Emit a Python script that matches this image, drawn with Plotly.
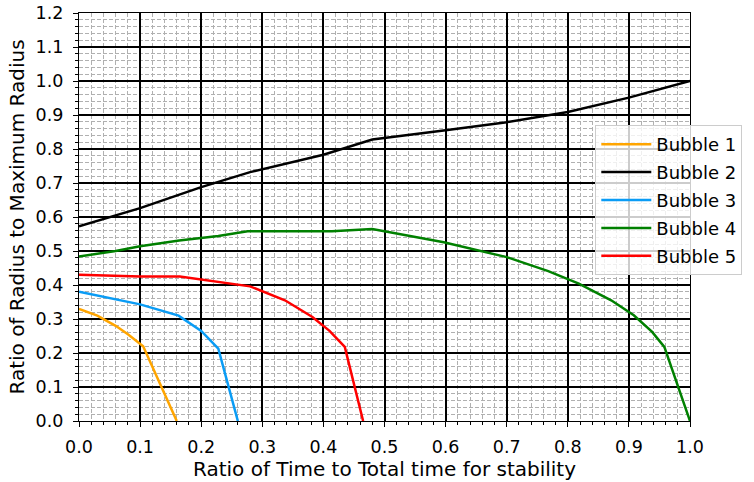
import plotly.graph_objects as go

# Data
b1_x = [0.0, 0.03, 0.06, 0.08, 0.105, 0.16]
b1_y = [0.33, 0.31, 0.28, 0.255, 0.22, 0.0]

b2_x = [0.0, 0.1, 0.2, 0.28, 0.4, 0.48, 0.6, 0.7, 0.8, 0.9, 1.0]
b2_y = [0.573, 0.626, 0.688, 0.732, 0.783, 0.828, 0.855, 0.879, 0.909, 0.951, 1.0]

b3_x = [0.0, 0.1, 0.163, 0.2, 0.228, 0.26]
b3_y = [0.38, 0.343, 0.31, 0.265, 0.213, 0.0]

b4_x = [0.0, 0.06, 0.1, 0.164, 0.228, 0.276, 0.414, 0.48, 0.597, 0.656, 0.7, 0.768,
        0.818, 0.871, 0.908, 0.938, 0.958, 1.0]
b4_y = [0.484, 0.5, 0.514, 0.531, 0.544, 0.558, 0.558, 0.565, 0.526, 0.502, 0.482, 0.441,
        0.404, 0.355, 0.311, 0.262, 0.218, 0.0]

b5_x = [0.0, 0.1, 0.165, 0.28, 0.337, 0.382, 0.41, 0.435, 0.465]
b5_y = [0.43, 0.425, 0.425, 0.396, 0.355, 0.306, 0.265, 0.218, 0.0]

names = ["Bubble 1", "Bubble 2", "Bubble 3", "Bubble 4", "Bubble 5"]
colors = ["#FFA500", "#000000", "#0A9CF5", "#008000", "#FF0000"]

x_title = "Ratio of Time to Total time for stability"
y_title = "Ratio of Radius to Maximum Radius"

FONT = "DejaVu Sans"

fig = go.Figure()
for xs, ys, n, c in zip([b1_x, b2_x, b3_x, b4_x, b5_x],
                        [b1_y, b2_y, b3_y, b4_y, b5_y], names, colors):
    fig.add_trace(go.Scatter(x=xs, y=ys, mode="lines", name=n, legendgroup=n,
                             line=dict(color=c, width=2.5)))

axis_common = dict(
    automargin=False,
    showline=True, linecolor="black", linewidth=1.2, mirror=True,
    showgrid=True, gridcolor="black", gridwidth=1.5,
    ticks="outside", ticklen=5, tickwidth=1.2, tickcolor="black",
    tickfont=dict(family=FONT, size=17.5, color="black"),
    zeroline=False,
)

minor_common = dict(dtick=0.02, tick0=0, showgrid=True, gridcolor="#b0b0b0", gridwidth=1,
                    griddash="4px,2px", ticks="outside", ticklen=3, tickwidth=1,
                    tickcolor="black")

fig.update_xaxes(
    range=[0, 1.0], dtick=0.1, tick0=0, tickformat=".1f",
    ticklabelstandoff=5,
    title=dict(text=x_title, font=dict(family=FONT, size=20, color="black"), standoff=5),
    minor=minor_common,
    **axis_common,
)
fig.update_yaxes(
    range=[0, 1.2], dtick=0.1, tick0=0, tickformat=".1f",
    ticklabelstandoff=6,
    title=dict(text=y_title, font=dict(family=FONT, size=20, color="black"), standoff=5),
    minor=minor_common,
    **axis_common,
)

fig.update_layout(
    width=754, height=482,
    margin=dict(l=79, r=48, t=13, b=61),
    paper_bgcolor="white", plot_bgcolor="white",
    font=dict(family=FONT, color="black"),
    legend=dict(
        x=0.845, y=0.7255, xanchor="left", yanchor="top",
        bgcolor="rgba(255,255,255,0.8)", bordercolor="#cccccc", borderwidth=1,
        font=dict(family=FONT, size=18, color="black"),
        itemwidth=50, tracegroupgap=1.5,
    ),
)

# remove the page's default body margin so the figure sits at the window origin
fig.write_html("out.html", config={"displayModeBar": False},
               post_script="document.body.style.margin='0px';")
